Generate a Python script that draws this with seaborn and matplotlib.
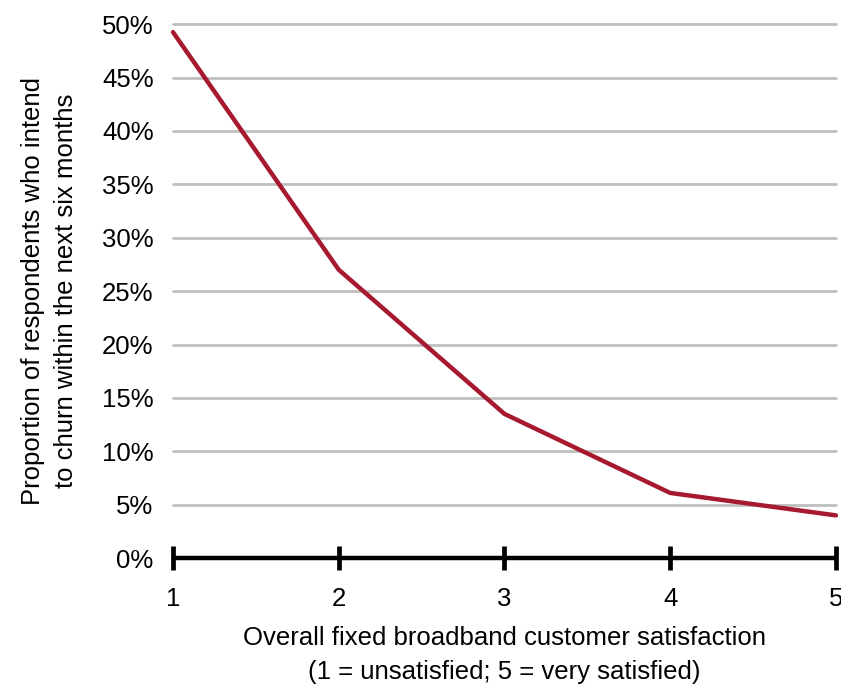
import matplotlib
matplotlib.use("Agg")
import matplotlib.pyplot as plt
import seaborn as sns
import pandas as pd
from matplotlib.ticker import PercentFormatter

# Churn intention by satisfaction score
satisfaction = [1, 2, 3, 4, 5]
churn_share = [0.4925, 0.270, 0.135, 0.061, 0.040]
y_ticks = [0, 0.05, 0.10, 0.15, 0.20, 0.25, 0.30, 0.35, 0.40, 0.45, 0.50]

df = pd.DataFrame({"satisfaction": satisfaction, "churn": churn_share})

sns.set_style("white")
plt.rcParams["font.family"] = ["Liberation Sans", "DejaVu Sans"]
plt.rcParams["text.color"] = "black"
plt.rcParams["axes.labelcolor"] = "black"
plt.rcParams["xtick.color"] = "black"
plt.rcParams["ytick.color"] = "black"

FS = 18.5

fig = plt.figure(figsize=(8.41, 6.89), dpi=100)
ax = fig.add_axes([0.2057, 0.19, 0.7883, 0.775])

sns.lineplot(data=df, x="satisfaction", y="churn", ax=ax,
             color="#A6192E", linewidth=3.2, clip_on=False, zorder=3)

ax.set_xlim(1, 5)
ax.set_ylim(0, 0.5)
ax.set_yticks(y_ticks)
ax.set_xticks(satisfaction)
ax.yaxis.set_major_formatter(PercentFormatter(1.0, decimals=0))

# horizontal gridlines
for v in y_ticks[1:]:
    ax.axhline(v, color="#BFBFBF", linewidth=2, zorder=1, clip_on=False)

for s in ["top", "right", "left"]:
    ax.spines[s].set_visible(False)
ax.spines["bottom"].set_linewidth(3.2)
ax.spines["bottom"].set_color("black")
ax.spines["bottom"].set_zorder(4)
ax.spines["bottom"].set_capstyle("butt")

ax.tick_params(axis="x", bottom=True, direction="inout", length=17, width=3.4,
               color="black", labelcolor="black", labelsize=FS, pad=12)
ax.tick_params(axis="y", left=False, length=0, labelcolor="black", labelsize=FS, pad=14)
for t in ax.xaxis.get_major_ticks():
    t.tick1line.set_clip_on(False)

ax.set_xlabel("Overall fixed broadband customer satisfaction\n(1 = unsatisfied; 5 = very satisfied)",
              fontsize=FS, labelpad=11, linespacing=1.55, color="black")
ax.set_ylabel("Proportion of respondents who intend\nto churn within the next six months",
              fontsize=FS, labelpad=17, linespacing=1.5, color="black")

fig.savefig("out.png", dpi=100)
